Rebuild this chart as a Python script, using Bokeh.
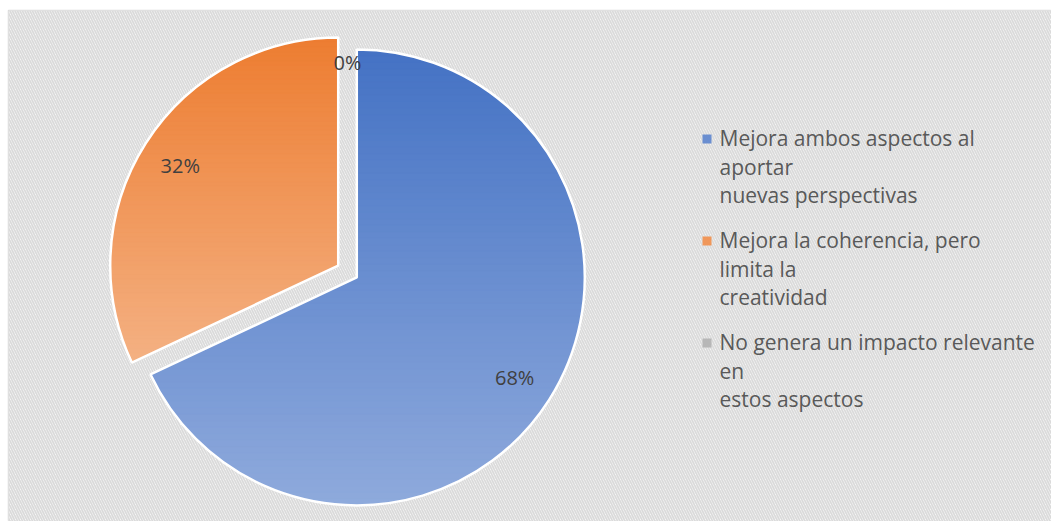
import numpy as np
from bokeh.plotting import figure
from bokeh.models import BoxAnnotation, ColumnDataSource
from bokeh.core.properties import value
from bokeh.embed import file_html
from bokeh.resources import INLINE

# ---- data ----
categories = [
    "Mejora ambos aspectos al\naportar\nnuevas perspectivas",
    "Mejora la coherencia, pero\nlimita la\ncreatividad",
    "No genera un impacto relevante\nen\nestos aspectos",
]
percentages = [68, 32, 0]
pct_labels = ["68%", "32%", "0%"]
top_colors = ["#4472C4", "#ED7D31", "#A5A5A5"]
bottom_colors = ["#8FAADC", "#F4B183", "#C9C9C9"]

# ---- layout / style ----
W, H = 1051, 521
R = 228.0          # pie radius (data units = px)
EXPLODE = 11.0     # slice explosion
LABEL_R = 187.0    # label distance from slice centre
LABEL_R_EMPTY = 198.0
FONT = "Open Sans"
LEG_GLYPH_X = 359.5
LEG_TEXT_X = 372.0
LEG_TOP_Y = 132.5
LEG_STEP = 102.0

p = figure(width=W, height=H, output_backend="svg", toolbar_location=None,
           x_range=(-339, 704), y_range=(-250, 261),
           x_axis_location=None, y_axis_location=None,
           min_border_left=8, min_border_top=10, min_border_right=0, min_border_bottom=0)
p.grid.visible = False
p.outline_line_color = "#d9d9d9"
p.outline_line_width = 1.5
p.background_fill_color = "white"
p.border_fill_color = "white"

bg = BoxAnnotation(fill_color="white", fill_alpha=1.0, line_alpha=0,
                   hatch_pattern="left_diagonal_line", hatch_color="#dadada",
                   hatch_weight=1.8, hatch_scale=5, level="underlay")
p.add_layout(bg)


def hex2rgb(h):
    h = h.lstrip("#")
    return np.array([int(h[i:i + 2], 16) for i in (0, 2, 4)], dtype=float)


def rgb2hex(c):
    c = np.clip(np.round(c), 0, 255).astype(int)
    return "#%02x%02x%02x" % tuple(c)


def clip_half(poly, y0, keep_above):
    out = []
    n = len(poly)
    if n == 0:
        return out
    for i in range(n):
        cur = poly[i]
        prv = poly[i - 1]
        cin = cur[1] >= y0 if keep_above else cur[1] <= y0
        pin = prv[1] >= y0 if keep_above else prv[1] <= y0
        if cin:
            if not pin:
                t = (y0 - prv[1]) / (cur[1] - prv[1])
                out.append((prv[0] + t * (cur[0] - prv[0]), y0))
            out.append(cur)
        elif pin:
            t = (y0 - prv[1]) / (cur[1] - prv[1])
            out.append((prv[0] + t * (cur[0] - prv[0]), y0))
    return out


vals = np.array(percentages, dtype=float)
fr = vals / vals.sum()
cum = np.concatenate([[0.0], np.cumsum(fr)]) * 2 * np.pi   # clockwise from top
start_math = np.pi / 2 - cum[1:]
end_math = np.pi / 2 - cum[:-1]
mid_math = (start_math + end_math) / 2
cxs = EXPLODE * np.cos(mid_math)
cys = EXPLODE * np.sin(mid_math)

strip_xs, strip_ys, strip_cols = [], [], []
N_STRIPS = 70
for i in range(len(vals)):
    ang = end_math[i] - start_math[i]
    if ang <= 0:
        continue
    npts = max(3, int(ang / (2 * np.pi) * 360))
    th = np.linspace(start_math[i], end_math[i], npts)
    poly = [(cxs[i], cys[i])] + [(cxs[i] + R * np.cos(t), cys[i] + R * np.sin(t)) for t in th]
    ys_all = [pt[1] for pt in poly]
    ymin, ymax = min(ys_all), max(ys_all)
    edges = np.linspace(ymin, ymax, N_STRIPS + 1)
    c_top, c_bot = hex2rgb(top_colors[i]), hex2rgb(bottom_colors[i])
    for k in range(N_STRIPS):
        y0, y1 = edges[k], edges[k + 1]
        q = clip_half(poly, y0, True)
        q = clip_half(q, y1 + 0.8, False)
        if len(q) < 3:
            continue
        t = (ymax - 0.5 * (y0 + y1)) / (ymax - ymin)
        strip_xs.append([pt[0] for pt in q])
        strip_ys.append([pt[1] for pt in q])
        strip_cols.append(rgb2hex(c_top + t * (c_bot - c_top)))

# base wedges
mid_cols = []
for i in range(len(vals)):
    mid_col = rgb2hex(0.5 * (hex2rgb(top_colors[i]) + hex2rgb(bottom_colors[i])))
    mid_cols.append(mid_col)
    if end_math[i] <= start_math[i]:
        continue
    p.wedge(x=cxs[i], y=cys[i], radius=R, start_angle=start_math[i], end_angle=end_math[i],
            fill_color=mid_col, line_color=None)

p.patches(xs="xs", ys="ys", fill_color="color", line_color="color", line_width=0.6,
          source=ColumnDataSource(dict(xs=strip_xs, ys=strip_ys, color=strip_cols)))

# white outlines
for i in range(len(vals)):
    if end_math[i] <= start_math[i]:
        continue
    p.wedge(x=cxs[i], y=cys[i], radius=R, start_angle=start_math[i], end_angle=end_math[i],
            fill_alpha=0, line_color="white", line_width=2.5)

# data labels
lr = np.where(vals > 0, LABEL_R, LABEL_R_EMPTY)
lx = cxs + lr * np.cos(mid_math)
ly = cys + lr * np.sin(mid_math)
p.text(x=lx, y=ly, text=pct_labels, text_align="center", text_baseline="middle",
       text_font=value(FONT), text_font_size="20px", text_color="#404040")

# legend (square marker aligned with first line of each entry)
n = len(categories)
leg_y = [LEG_TOP_Y - i * LEG_STEP for i in range(n)]
p.scatter(x=[LEG_GLYPH_X] * n, y=leg_y, marker="square", size=9,
          fill_color=mid_cols, line_color=None)
p.text(x=[LEG_TEXT_X] * n, y=[y + 15 for y in leg_y], text=categories,
       text_align="left", text_baseline="top",
       text_font=value(FONT), text_font_size="21px", text_color="#595959",
       text_line_height=1.02)

open("out.html", "w").write(file_html(p, INLINE))
